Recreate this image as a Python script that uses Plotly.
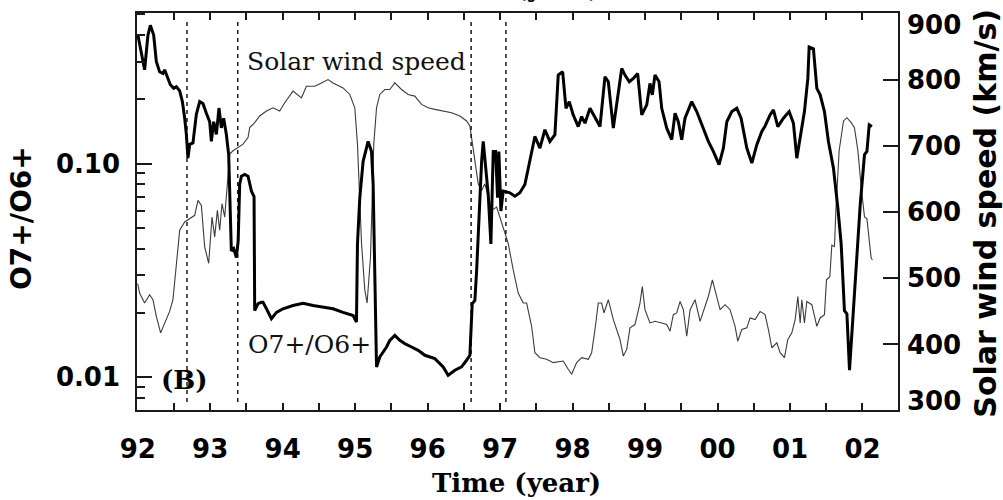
import math
import plotly.graph_objects as go

# ---- data ----
ratio_years = [1992.003, 1992.049, 1992.095, 1992.141, 1992.174, 1992.220, 1992.257, 1992.302, 1992.348,
               1992.371, 1992.417, 1992.450, 1992.496, 1992.533, 1992.579, 1992.616, 1992.648, 1992.671,
               1992.693, 1992.717, 1992.762, 1992.809, 1992.855, 1992.900, 1992.947, 1992.993, 1993.016,
               1993.048, 1993.085, 1993.121, 1993.154, 1993.186, 1993.223, 1993.255, 1993.292, 1993.324,
               1993.361, 1993.386, 1993.407, 1993.431, 1993.476, 1993.522, 1993.569, 1993.605, 1993.614,
               1993.660, 1993.707, 1993.729, 1993.776, 1993.845, 1993.914, 1994.005, 1994.143, 1994.281,
               1994.419, 1994.557, 1994.695, 1994.833, 1994.972, 1995.018, 1995.032, 1995.064, 1995.110,
               1995.179, 1995.226, 1995.248, 1995.271, 1995.295, 1995.340, 1995.433, 1995.478, 1995.547,
               1995.616, 1995.685, 1995.778, 1995.869, 1995.962, 1996.100, 1996.214, 1996.283, 1996.376,
               1996.468, 1996.537, 1996.583, 1996.615, 1996.652, 1996.676, 1996.711, 1996.745, 1996.767,
               1996.800, 1996.836, 1996.873, 1996.905, 1996.938, 1996.965, 1996.983, 1997.011, 1997.043,
               1997.112, 1997.135, 1997.204, 1997.273, 1997.342, 1997.411, 1997.480, 1997.549, 1997.618,
               1997.687, 1997.756, 1997.802, 1997.863, 1997.909, 1997.954, 1998.009, 1998.078, 1998.125,
               1998.171, 1998.240, 1998.309, 1998.378, 1998.447, 1998.493, 1998.562, 1998.609, 1998.678,
               1998.723, 1998.782, 1998.838, 1998.898, 1998.954, 1999.023, 1999.068, 1999.100, 1999.137,
               1999.193, 1999.230, 1999.299, 1999.368, 1999.414, 1999.459, 1999.506, 1999.551, 1999.644,
               1999.713, 1999.804, 1999.873, 1999.942, 2000.021, 2000.081, 2000.128, 2000.197, 2000.266,
               2000.325, 2000.404, 2000.473, 2000.542, 2000.611, 2000.656, 2000.725, 2000.771, 2000.832,
               2000.909, 2000.988, 2001.047, 2001.094, 2001.140, 2001.199, 2001.246, 2001.264, 2001.323,
               2001.370, 2001.416, 2001.475, 2001.530, 2001.599, 2001.660, 2001.706, 2001.751, 2001.785,
               2001.821, 2001.876, 2001.969, 2002.028, 2002.061, 2002.093, 2002.130]
o7_o6_ratio = [0.399, 0.333, 0.275, 0.399, 0.444, 0.400, 0.300, 0.269, 0.264,
               0.275, 0.251, 0.234, 0.225, 0.229, 0.219, 0.195, 0.163, 0.137,
               0.106, 0.123, 0.125, 0.170, 0.195, 0.191, 0.172, 0.157, 0.127,
               0.157, 0.137, 0.182, 0.147, 0.163, 0.137, 0.110, 0.0390, 0.0400,
               0.0363, 0.0435, 0.0800, 0.0873, 0.0889, 0.0873, 0.0743, 0.0700, 0.0205,
               0.0221, 0.0224, 0.0224, 0.0209, 0.01877, 0.0201, 0.0209, 0.02164, 0.0222,
               0.02164, 0.02126, 0.0209, 0.0201, 0.01945, 0.01811, 0.0421, 0.0692, 0.1025,
               0.127, 0.114, 0.0801, 0.0293, 0.01117, 0.01243, 0.01384, 0.01487, 0.0157,
               0.01487, 0.01436, 0.01384, 0.01336, 0.01266, 0.01222, 0.01117, 0.01021, 0.01078,
               0.01117, 0.0120, 0.01266, 0.02205, 0.02285, 0.0315, 0.060, 0.1025, 0.127,
               0.0954, 0.0717, 0.0421, 0.114, 0.114, 0.0692, 0.114, 0.060, 0.0743,
               0.0730, 0.0730, 0.0704, 0.0730, 0.0798, 0.1025, 0.134, 0.1182, 0.144,
               0.127, 0.1365, 0.2597, 0.269, 0.1815, 0.195, 0.169, 0.149, 0.166,
               0.1546, 0.1815, 0.163, 0.149, 0.2551, 0.2417, 0.1465, 0.195, 0.2788,
               0.2597, 0.2417, 0.2505, 0.264, 0.169, 0.1883, 0.2373, 0.2097, 0.2597,
               0.2417, 0.1815, 0.1465, 0.1294, 0.172, 0.157, 0.1294, 0.163, 0.195,
               0.1752, 0.1465, 0.127, 0.114, 0.0989, 0.1182, 0.157, 0.1752, 0.1815,
               0.163, 0.1182, 0.1006, 0.1226, 0.1414, 0.150, 0.169, 0.1785, 0.149,
               0.163, 0.1752, 0.1546, 0.106, 0.1316, 0.1752, 0.2505, 0.3518, 0.345,
               0.225, 0.2097, 0.1752, 0.127, 0.0954, 0.0621, 0.042, 0.0205, 0.0198,
               0.01078, 0.0205, 0.0644, 0.1101, 0.114, 0.1519, 0.149]

speed_years = [1992.000, 1992.026, 1992.095, 1992.164, 1992.210, 1992.257, 1992.316, 1992.371, 1992.440,
               1992.486, 1992.533, 1992.579, 1992.648, 1992.717, 1992.786, 1992.831, 1992.878, 1992.924,
               1992.979, 1993.025, 1993.062, 1993.099, 1993.131, 1993.163, 1993.200, 1993.237, 1993.269,
               1993.315, 1993.384, 1993.453, 1993.522, 1993.545, 1993.614, 1993.683, 1993.776, 1993.867,
               1993.959, 1994.028, 1994.143, 1994.259, 1994.328, 1994.443, 1994.535, 1994.626, 1994.695,
               1994.833, 1994.926, 1994.995, 1995.032, 1995.088, 1995.133, 1995.165, 1995.212, 1995.257,
               1995.295, 1995.340, 1995.409, 1995.478, 1995.547, 1995.640, 1995.731, 1995.823, 1995.916,
               1996.007, 1996.100, 1996.214, 1996.330, 1996.445, 1996.537, 1996.583, 1996.615, 1996.652,
               1996.698, 1996.745, 1996.790, 1996.836, 1996.883, 1996.952, 1996.997, 1997.043, 1997.112,
               1997.181, 1997.250, 1997.319, 1997.366, 1997.435, 1997.480, 1997.549, 1997.642, 1997.733,
               1997.871, 1997.940, 1997.987, 1998.056, 1998.125, 1998.216, 1998.263, 1998.309, 1998.355,
               1998.401, 1998.433, 1998.493, 1998.562, 1998.654, 1998.700, 1998.747, 1998.792, 1998.861,
               1998.930, 1998.962, 1998.999, 1999.068, 1999.137, 1999.230, 1999.299, 1999.345, 1999.390,
               1999.437, 1999.483, 1999.528, 1999.575, 1999.621, 1999.690, 1999.759, 1999.828, 1999.873,
               1999.929, 1999.989, 2000.035, 2000.104, 2000.173, 2000.242, 2000.279, 2000.335, 2000.404,
               2000.449, 2000.518, 2000.587, 2000.656, 2000.702, 2000.749, 2000.818, 2000.864, 2000.923,
               2000.970, 2001.025, 2001.071, 2001.108, 2001.140, 2001.163, 2001.199, 2001.232, 2001.301,
               2001.370, 2001.416, 2001.475, 2001.503, 2001.549, 2001.577, 2001.613, 2001.633, 2001.678,
               2001.738, 2001.785, 2001.844, 2001.889, 2001.937, 2001.982, 2002.028, 2002.061, 2002.093,
               2002.120, 2002.138]
wind_speed = [492, 477.5, 462.5, 475, 467.5, 442.4, 417.5, 432.5, 449.9,
              467.5, 522.5, 572.5, 584.9, 590, 595, 617.5, 610, 547.4,
              522.5, 592.4, 562.4, 602.5, 572.5, 612.5, 592.4, 642.5, 687.5,
              692.5, 697.4, 702.5, 712.4, 727.4, 734.9, 745, 752.5, 757.4,
              752.5, 764.9, 782.5, 772.4, 790, 790, 794.9, 800, 794.9,
              787.4, 777.5, 757.4, 702.5, 552.5, 482.5, 462.5, 532.4, 702.5,
              757.4, 777.5, 785, 785, 794.9, 785, 777.5, 775, 762.5,
              757.4, 755, 752.5, 749.9, 745, 737.5, 730, 702.5, 677.5,
              642.5, 632.5, 642.5, 622.4, 602.5, 607.4, 592.4, 577.4, 552.5,
              512.5, 477.5, 462.5, 462.5, 427.4, 387.5, 380, 377.5, 372.5,
              374.9, 362.5, 355, 372.5, 380, 377.5, 387.5, 422.5, 462.5,
              462.5, 447.5, 467.5, 437.5, 407.5, 382.4, 392.5, 425, 430,
              462.5, 487.4, 452.5, 432.5, 434.9, 432.5, 430, 420, 445,
              447.5, 464.9, 452.5, 412.4, 452.5, 467.5, 434.9, 457.4, 472.4,
              497.5, 472.4, 452.5, 460, 452.5, 427.4, 404.9, 422.5, 425,
              440, 437.5, 449.9, 445, 422.5, 395, 402.5, 387.5, 380,
              407.5, 417.5, 437.5, 472.4, 432.5, 467.5, 432.5, 464.9, 460,
              427.4, 440, 445, 497.5, 502.4, 550, 547.4, 602.5, 692.5,
              737.5, 742.4, 734.9, 727.4, 692.5, 637.4, 592.4, 590, 552.5,
              530, 527.5]

boundary_years = [1992.68, 1993.38, 1996.60, 1997.08]
boundary_speed_extent = [313, 888]

year_ticks = list(range(1992, 2003))
year_labels = ["92", "93", "94", "95", "96", "97", "98", "99", "00", "01", "02"]
ratio_ticks = [0.01, 0.1]
ratio_labels = ["0.01", "0.10"]
ratio_minor = [0.008, 0.009, 0.02, 0.03, 0.04, 0.05, 0.06, 0.07, 0.08, 0.09, 0.2, 0.3, 0.4, 0.5]
speed_ticks = [400, 500, 600, 700, 800]
speed_end_labels = ["300", "900"]   # drawn just inside the frame, as in the reference

INK = "#1a1a1a"
tick_font = dict(family="DejaVu Sans", size=26, color="black", weight="bold")

fig = go.Figure()

fig.add_trace(go.Scatter(x=speed_years, y=wind_speed, mode="lines", yaxis="y",
                         line=dict(color="#3c3c3c", width=1.1), hoverinfo="skip"))
for yr in boundary_years:
    fig.add_trace(go.Scatter(x=[yr, yr], y=boundary_speed_extent, mode="lines", yaxis="y",
                             line=dict(color=INK, width=1.5, dash="4px,4px"), hoverinfo="skip"))
fig.add_trace(go.Scatter(x=ratio_years, y=o7_o6_ratio, mode="lines", yaxis="y2",
                         line=dict(color="black", width=3), hoverinfo="skip"))

fig.update_layout(
    width=1003, height=500,
    margin=dict(l=137, r=105, t=11, b=90),
    plot_bgcolor="white", paper_bgcolor="white",
    showlegend=False,
    xaxis=dict(
        range=[1991.99, 2002.49], tickmode="array", tickvals=year_ticks, ticktext=year_labels,
        ticks="inside", ticklen=7, tickwidth=1.5, tickcolor=INK,
        showline=True, linecolor=INK, linewidth=1.5, mirror="allticks",
        showgrid=False, zeroline=False, tickfont=tick_font, ticklabelstandoff=15,
        minor=dict(tickmode="linear", tick0=1992, dtick=0.5, ticks="inside", ticklen=7,
                   tickwidth=1.5, tickcolor=INK, showgrid=False),
    ),
    yaxis=dict(
        side="right", range=[301, 900.5], tickmode="array", tickvals=speed_ticks,
        ticks="inside", ticklen=15, tickwidth=1.5, tickcolor=INK,
        showline=True, linecolor=INK, linewidth=1.5,
        showgrid=False, zeroline=False, tickfont=tick_font, ticklabelstandoff=2,
    ),
    yaxis2=dict(
        type="log", overlaying="y", side="left",
        range=[math.log10(0.00702), math.log10(0.507)],
        tickmode="array", tickvals=ratio_ticks, ticktext=ratio_labels,
        ticks="inside", ticklen=15, tickwidth=1.5, tickcolor=INK,
        showline=True, linecolor=INK, linewidth=1.5,
        showgrid=False, zeroline=False, tickfont=tick_font, ticklabelstandoff=10,
        minor=dict(tickmode="array", tickvals=ratio_minor, ticks="inside", ticklen=8,
                   tickwidth=1.5, tickcolor=INK, showgrid=False),
    ),
)

# end labels of the speed axis, nudged inside the frame like the original
fig.add_annotation(x=1.0, y=0.0225, xref="paper", yref="paper", text=speed_end_labels[0],
                   showarrow=False, xanchor="left", yanchor="middle", xshift=7, font=tick_font)
fig.add_annotation(x=1.0, y=0.971, xref="paper", yref="paper", text=speed_end_labels[1],
                   showarrow=False, xanchor="left", yanchor="middle", xshift=7, font=tick_font)

label_font = dict(family="DejaVu Serif", size=25, color="#111")
fig.add_annotation(x=1993.476, y=827, xref="x", yref="y", text="Solar wind speed",
                   showarrow=False, xanchor="left", yanchor="middle", font=label_font)
fig.add_annotation(x=1993.49, y=400, xref="x", yref="y", text="O7+/O6+",
                   showarrow=False, xanchor="left", yanchor="middle", font=label_font)
fig.add_annotation(x=1992.30, y=346, xref="x", yref="y", text="(B)",
                   showarrow=False, xanchor="left", yanchor="middle",
                   font=dict(family="DejaVu Serif", size=26, color="black", weight="bold"))

title_font = dict(family="DejaVu Sans", size=28, color="black", weight="bold")
fig.add_annotation(x=-0.151, y=0.484, xref="paper", yref="paper", text="O7+/O6+",
                   textangle=-90, showarrow=False, xanchor="center", yanchor="middle", font=title_font)
fig.add_annotation(x=1.1156, y=0.497, xref="paper", yref="paper", text="Solar wind speed (km/s)",
                   textangle=-90, showarrow=False, xanchor="center", yanchor="middle",
                   font=dict(family="DejaVu Sans", size=30, color="black", weight="bold"))
xt_font = dict(family="DejaVu Serif", size=26, color="black", weight="bold")
fig.add_annotation(x=0.499, y=-0.184, xref="paper", yref="paper", text="Time (year)",
                   showarrow=False, xanchor="center", yanchor="middle", font=xt_font)
# title of the panel above, cut off by the top edge
fig.add_annotation(x=0.499, y=1.062, xref="paper", yref="paper", text="Time (year)",
                   showarrow=False, xanchor="center", yanchor="middle", font=xt_font)

fig.write_html("out.html")
